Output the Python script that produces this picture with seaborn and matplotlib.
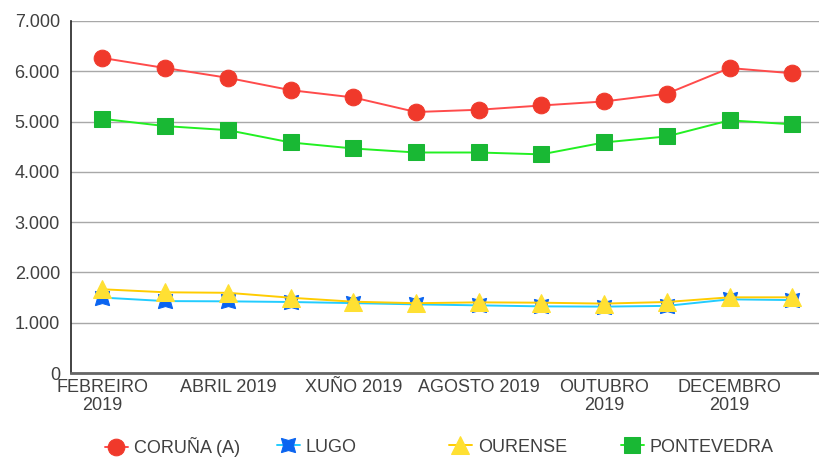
import numpy as np
import pandas as pd
import matplotlib
matplotlib.use("Agg")
import matplotlib.pyplot as plt
import seaborn as sns
from matplotlib.ticker import FuncFormatter

months = ["FEBREIRO 2019", "MARZO 2019", "ABRIL 2019", "MAIO 2019", "XUÑO 2019", "XULLO 2019",
          "AGOSTO 2019", "SETEMBRO 2019", "OUTUBRO 2019", "NOVEMBRO 2019", "DECEMBRO 2019", "XANEIRO 2020"]
tick_labels = ["FEBREIRO\n2019", "", "ABRIL 2019", "", "XUÑO 2019", "",
               "AGOSTO 2019", "", "OUTUBRO\n2019", "", "DECEMBRO\n2019", ""]
coruna = [6265, 6065, 5870, 5625, 5480, 5190, 5235, 5320, 5400, 5555, 6065, 5960]
lugo = [1500, 1430, 1425, 1412, 1390, 1365, 1345, 1325, 1320, 1335, 1465, 1450]
ourense = [1665, 1605, 1595, 1497, 1418, 1388, 1405, 1398, 1380, 1412, 1505, 1505]
pontevedra = [5055, 4910, 4830, 4585, 4465, 4385, 4385, 4348, 4585, 4705, 5025, 4945]

sns.set_theme(style="white")
plt.rcParams['font.family'] = ['Liberation Sans', 'DejaVu Sans']
text_color = "#404040"

fig = plt.figure(figsize=(8.19, 4.63), dpi=100)
W, H = 819, 463
ax = fig.add_axes([71 / W, 90 / H, 752.7 / W, 352 / H])

x = np.arange(len(months))
series = [
    ("CORUÑA (A)", coruna, dict(color="#FF4B4B", marker="o", markerfacecolor="#F0392B",
                                markeredgecolor="#F0392B", markersize=12)),
    ("LUGO", lugo, dict(color="#22CCFF", marker=(4, 1, 45), markerfacecolor="#0A64F0",
                        markeredgecolor="#0A64F0", markersize=14.5)),
    ("OURENSE", ourense, dict(color="#FFCC00", marker="^", markerfacecolor="#FFE033",
                              markeredgecolor="#FFE033", markersize=13)),
    ("PONTEVEDRA", pontevedra, dict(color="#22F022", marker="s", markerfacecolor="#19B834",
                                    markeredgecolor="#19B834", markersize=11)),
]
handles = []
for name, vals, kw in series:
    df = pd.DataFrame({"x": x, "y": vals})
    sns.lineplot(data=df, x="x", y="y", ax=ax, linewidth=1.4, legend=False, **kw)
    handles.append((name, ax.lines[-1]))

ax.set_xlim(-0.5, 11.5)
ax.set_ylim(0, 7000)
ax.set_yticks(np.arange(0, 7001, 1000))
ax.yaxis.set_major_formatter(FuncFormatter(lambda v, p: f"{int(v):,}".replace(",", ".")))
ax.set_xticks(x)
ax.set_xticklabels(tick_labels, linespacing=1.1)
ax.set_xlabel("")
ax.set_ylabel("")
ax.tick_params(axis="both", length=0, labelsize=13, colors=text_color)
ax.tick_params(axis="y", pad=8)
ax.tick_params(axis="x", pad=4)
ax.grid(axis="y", color="#A8A8A8", linewidth=1.0)
ax.grid(axis="x", visible=False)
for s in ["top", "right"]:
    ax.spines[s].set_visible(False)
ax.spines["left"].set_color("#222222")
ax.spines["left"].set_linewidth(1.2)
ax.spines["bottom"].set_color("#666666")
ax.spines["bottom"].set_linewidth(2.0)
ax.set_axisbelow(True)

legend_x = [105, 277, 449, 621]
for (name, line), lx in zip(handles, legend_x):
    leg = fig.legend([line], [name], loc="center left", bbox_to_anchor=(lx / W, 1 - 447 / H),
                     frameon=False, fontsize=13, handlelength=1.25, handletextpad=0.35,
                     borderpad=0, borderaxespad=0, labelcolor=text_color)

fig.savefig("out.png", dpi=100)
